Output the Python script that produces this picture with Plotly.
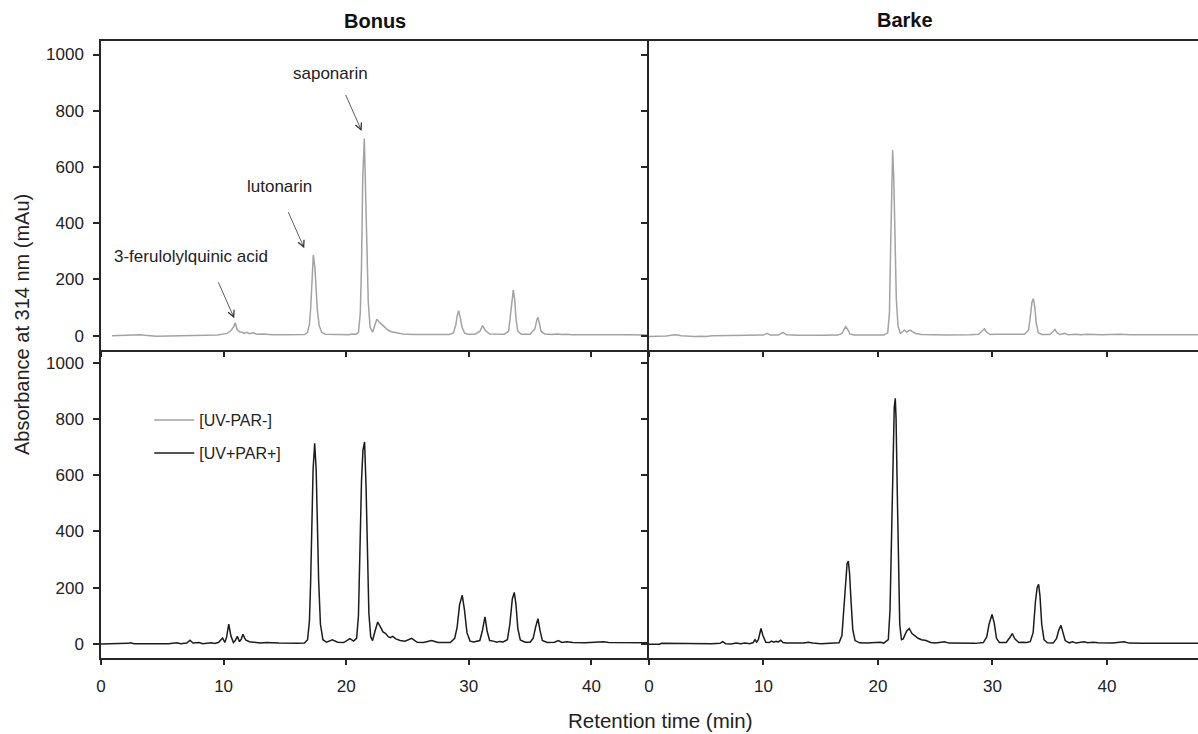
import plotly.graph_objects as go

# ---------------- data (retention time [min], absorbance at 314 nm [mAu]) ----------------
bonus_minus = [
    (0.9, 0), (2.0, 1), (2.8, 4), (3.2, 3), (3.6, 1), (4.5, -2), (5.5, -1), (6.5, 0), (8.0, 1),
    (9.5, 2), (10.3, 8), (10.6, 18), (10.8, 30), (10.95, 46), (11.1, 22), (11.3, 14), (11.5, 12),
    (11.7, 8), (11.9, 12), (12.1, 7), (12.4, 10), (12.7, 5), (13.2, 6), (14.0, 3), (15.0, 3),
    (16.0, 3), (16.6, 4), (16.85, 12), (17.0, 40), (17.1, 95), (17.2, 190), (17.32, 287),
    (17.45, 240), (17.55, 160), (17.65, 90), (17.8, 35), (18.0, 12), (18.3, 5), (19.0, 4),
    (19.3, 6), (19.6, 3), (20.2, 3), (20.5, 6), (20.8, 5), (21.0, 12), (21.15, 80), (21.25, 250),
    (21.35, 560), (21.48, 701), (21.6, 520), (21.7, 300), (21.8, 120), (21.95, 30), (22.15, 12),
    (22.35, 35), (22.5, 58), (22.7, 48), (22.9, 40), (23.1, 30), (23.4, 20), (23.7, 14), (24.1, 10),
    (24.6, 6), (25.5, 4), (26.5, 4), (27.5, 3), (28.4, 4), (28.75, 10), (28.95, 40), (29.05, 70),
    (29.17, 89), (29.3, 65), (29.45, 30), (29.65, 10), (29.9, 5), (30.5, 5), (30.9, 15), (31.13, 36),
    (31.35, 18), (31.7, 6), (32.3, 5), (32.9, 5), (33.25, 15), (33.4, 70), (33.52, 130), (33.63, 162),
    (33.74, 130), (33.85, 60), (34.0, 15), (34.3, 5), (35.0, 5), (35.4, 25), (35.55, 55), (35.64, 65),
    (35.75, 45), (35.9, 15), (36.2, 6), (36.8, 4), (37.2, 6), (37.6, 4), (38.0, 5), (38.4, 3),
    (39.5, 3), (40.5, 3), (41.0, 5), (41.5, 3), (43.0, 3), (44.7, 2),
]

barke_minus = [
    (0, -3), (0.8, -3), (1.5, -1), (2.1, 2), (2.4, 3), (2.8, 0), (3.3, -2), (4.0, -3), (4.6, -2),
    (5.0, -3), (5.5, 0), (7, 0), (9.5, 1), (10.0, 2), (10.3, 8), (10.6, 2), (11.3, 2), (11.7, 12),
    (12.0, 3), (13, 1), (15, 1), (16.5, 2), (16.85, 8), (17.0, 20), (17.18, 32), (17.35, 22),
    (17.55, 6), (17.9, 2), (19, 1), (20.5, 2), (20.85, 10), (21.0, 80), (21.1, 300), (21.2, 560),
    (21.28, 660), (21.38, 560), (21.48, 330), (21.6, 130), (21.75, 35), (21.95, 8), (22.1, 12),
    (22.3, 20), (22.5, 13), (22.8, 20), (23.0, 14), (23.3, 8), (23.8, 4), (24.5, 3), (26, 2),
    (28.0, 3), (28.8, 5), (29.05, 15), (29.29, 24), (29.5, 12), (29.8, 4), (30.3, 5), (31, 6),
    (32.0, 5), (32.8, 5), (33.15, 20), (33.3, 65), (33.45, 120), (33.57, 132), (33.7, 100),
    (33.82, 45), (34.0, 10), (34.3, 4), (35.0, 4), (35.3, 15), (35.46, 22), (35.65, 10), (35.9, 4),
    (36.3, 8), (36.6, 3), (37.3, 5), (37.7, 3), (38.3, 5), (39.5, 3), (41.2, 5), (42.0, 3), (44, 3),
    (47.95, 3),
]

bonus_plus = [
    (0, 0), (1.5, 0), (2.2, 2), (2.4, 4), (2.7, 1), (4, 1), (5.5, 1), (6.2, 4), (6.5, 1), (7.0, 3),
    (7.26, 13), (7.5, 3), (8.0, 5), (8.3, 1), (9.0, 4), (9.3, 2), (9.6, 6), (9.92, 21), (10.1, 5),
    (10.25, 25), (10.42, 70), (10.6, 28), (10.8, 5), (10.95, 12), (11.12, 27), (11.3, 8), (11.45, 18),
    (11.58, 34), (11.8, 14), (12.1, 8), (12.6, 4), (13.0, 3), (13.5, 5), (14.0, 5), (14.5, 3),
    (16.0, 2), (16.6, 3), (16.85, 15), (17.0, 80), (17.1, 220), (17.2, 420), (17.3, 620),
    (17.43, 713), (17.55, 620), (17.65, 430), (17.75, 230), (17.9, 70), (18.1, 15), (18.4, 6),
    (18.87, 15), (19.3, 6), (19.8, 5), (20.3, 19), (20.6, 10), (20.85, 20), (21.0, 100),
    (21.12, 330), (21.25, 580), (21.37, 690), (21.5, 718), (21.62, 560), (21.72, 330), (21.85, 110),
    (22.0, 25), (22.15, 12), (22.35, 45), (22.57, 78), (22.8, 60), (23.0, 43), (23.2, 38),
    (23.45, 25), (23.6, 22), (23.8, 27), (24.05, 18), (24.4, 12), (24.8, 10), (25.34, 20),
    (25.8, 6), (26.3, 5), (26.97, 12), (27.5, 5), (28.5, 5), (28.85, 20), (29.05, 60), (29.25, 140),
    (29.47, 173), (29.65, 120), (29.85, 40), (30.1, 10), (30.4, 7), (30.9, 12), (31.1, 45),
    (31.32, 96), (31.5, 45), (31.7, 12), (32.0, 10), (32.3, 6), (32.5, 9), (32.8, 7), (33.15, 15),
    (33.35, 70), (33.55, 160), (33.71, 183), (33.85, 140), (34.0, 55), (34.2, 14), (34.6, 6),
    (35.0, 6), (35.25, 20), (35.45, 60), (35.64, 90), (35.8, 50), (36.0, 12), (36.4, 5), (37.0, 6),
    (37.3, 12), (37.6, 5), (38.0, 8), (38.5, 5), (39.5, 4), (41.0, 8), (41.4, 5), (43, 4), (44.7, 4),
]

barke_plus = [
    (0, -1), (0.9, -1), (1.1, 2), (3, 1), (5.5, 1), (6.2, 2), (6.43, 8), (6.7, 1), (7.2, 0),
    (7.6, 3), (8.0, 1), (8.4, 3), (8.8, 1), (9.1, 5), (9.26, 15), (9.4, 6), (9.55, 15), (9.78, 55),
    (9.95, 30), (10.2, 6), (10.5, 5), (10.7, 10), (10.9, 6), (11.1, 9), (11.3, 7), (11.5, 13),
    (11.7, 5), (12.0, 3), (13.5, 3), (13.9, 6), (14.3, 3), (15, 1), (16, 2), (16.6, 4), (16.85, 30),
    (17.0, 110), (17.15, 220), (17.3, 285), (17.41, 295), (17.52, 250), (17.65, 150), (17.8, 50),
    (18.0, 12), (18.4, 4), (19.0, 3), (20.0, 4), (20.2, 6), (20.5, 3), (20.9, 15), (21.05, 120),
    (21.18, 420), (21.3, 700), (21.42, 840), (21.51, 873), (21.58, 800), (21.68, 550), (21.78, 280),
    (21.9, 70), (22.05, 15), (22.2, 18), (22.5, 45), (22.73, 55), (22.95, 38), (23.2, 30),
    (23.5, 20), (23.8, 15), (24.2, 12), (24.6, 5), (25.0, 3), (25.5, 6), (25.8, 8), (26.2, 3),
    (27.0, 2), (27.7, 3), (28.5, 2), (29.2, 5), (29.5, 25), (29.7, 70), (29.96, 105), (30.15, 75),
    (30.35, 20), (30.6, 5), (31.2, 5), (31.5, 22), (31.73, 37), (31.95, 18), (32.3, 5), (32.6, 6),
    (33.0, 5), (33.3, 8), (33.55, 40), (33.75, 150), (33.9, 200), (34.03, 212), (34.15, 170),
    (34.3, 70), (34.5, 15), (34.8, 4), (35.3, 3), (35.6, 20), (35.8, 50), (35.98, 66), (36.15, 45),
    (36.35, 12), (36.7, 4), (37.0, 8), (37.3, 3), (38.0, 8), (38.3, 4), (38.8, 6), (39.2, 4),
    (40.5, 3), (41.5, 8), (41.9, 3), (43, 2), (47.95, 2),
]

cultivars = ["Bonus", "Barke"]
treatments = ["[UV-PAR-]", "[UV+PAR+]"]
x_ticks = [0, 10, 20, 30, 40]
y_ticks = [0, 200, 400, 600, 800, 1000]

# annotated compounds in Bonus [UV-PAR-]: (label, label position t, v, arrow head t, v)
compound_labels = ["saponarin", "lutonarin", "3-ferulolylquinic acid"]
label_pos = [(18.76, 933), (14.58, 532), (7.34, 283)]
arrow_heads = [(21.26, 728), (16.58, 311), (10.87, 62)]

# ---------------- figure ----------------
FONT = "Arial, 'Liberation Sans', sans-serif"
GRAY = "#a3a3a3"
BLACK = "#1c1c1c"
AXC = "#262626"

fig = go.Figure()

def add(series, xa, ya, color, name, show):
    t = [p[0] for p in series]
    v = [p[1] for p in series]
    fig.add_trace(go.Scatter(x=t, y=v, mode="lines", xaxis=xa, yaxis=ya,
                             line=dict(color=color, width=1.5), name=name,
                             legendgroup=name, showlegend=show, hoverinfo="skip"))

add(bonus_minus, "x", "y", GRAY, treatments[0], True)
add(barke_minus, "x2", "y2", GRAY, treatments[0], False)
add(bonus_plus, "x3", "y3", BLACK, treatments[1], True)
add(barke_plus, "x4", "y4", BLACK, treatments[1], False)

XL = [0, 0.49954]
XR = [0.49954, 1]
YT = [0.4992, 1]
YB = [0, 0.4992]

common = dict(showgrid=False, zeroline=False, showline=True, linecolor=AXC, linewidth=1.5,
              ticks="outside", tickcolor=AXC, tickwidth=1.5,
              tickfont=dict(family=FONT, size=17, color="#222222"))

def xax(dom, rng, anchor, labels, mirror):
    d = dict(common)
    d.update(domain=dom, range=rng, anchor=anchor, mirror=mirror, ticklen=5,
             tickvals=x_ticks, showticklabels=labels, ticklabelstandoff=7)
    return d

def yax(dom, rng, anchor, labels):
    d = dict(common)
    d.update(domain=dom, range=rng, anchor=anchor, mirror=False, ticklen=6,
             tickvals=y_ticks, showticklabels=labels, ticklabelstandoff=6)
    return d

fig.update_layout(
    xaxis=xax(XL, [0, 44.7], "y", False, True),
    xaxis2=xax(XR, [0, 47.95], "y2", False, True),
    xaxis3=xax(XL, [0, 44.7], "y3", True, False),
    xaxis4=xax(XR, [0, 47.95], "y4", True, False),
    yaxis=yax(YT, [-51, 1048], "x", True),
    yaxis2=yax(YT, [-51, 1048], "x2", False),
    yaxis3=yax(YB, [-50, 1045], "x3", True),
    yaxis4=yax(YB, [-50, 1045], "x4", False),
)

def mid(**kw):
    d = dict(showarrow=False, xanchor="center", yanchor="middle")
    d.update(kw)
    return d

annotations = []
# panel titles
annotations.append(mid(text="<b>%s</b>" % cultivars[0], xref="paper", yref="paper",
                       x=(375 - 101) / 1097, y=(658 - 21) / 617,
                       font=dict(family=FONT, size=20, color="#111111")))
annotations.append(mid(text="<b>%s</b>" % cultivars[1], xref="paper", yref="paper",
                       x=(905 - 101) / 1097, y=(658 - 20) / 617,
                       font=dict(family=FONT, size=20, color="#111111")))
# axis titles
annotations.append(mid(text="Retention time (min)", xref="paper", yref="paper",
                       x=(660 - 101) / 1097, y=(658 - 720) / 617,
                       font=dict(family=FONT, size=20.5, color="#222222")))
annotations.append(mid(text="Absorbance at 314 nm (mAu)", xref="paper", yref="paper",
                       x=(22 - 101) / 1097, y=(658 - 325) / 617, textangle=-90,
                       font=dict(family=FONT, size=20, color="#222222")))
# compound labels + arrows
for lab, (lx, ly), (hx, hy) in zip(compound_labels, label_pos, arrow_heads):
    annotations.append(mid(text=lab, xref="x", yref="y", x=lx, y=ly,
                           font=dict(family=FONT, size=17, color="#222222")))
    annotations.append(dict(text="", xref="x", yref="y", x=hx, y=hy, showarrow=True,
                            ax=-16.6, ay=-37.5, arrowhead=5, arrowsize=1.6,
                            arrowwidth=0.8, arrowcolor="#333333"))

fig.update_layout(
    annotations=annotations,
    width=1198, height=734,
    margin=dict(l=101, r=0, t=41, b=76),
    paper_bgcolor="white", plot_bgcolor="white",
    showlegend=True,
    legend=dict(x=0.044, y=0.413, xanchor="left", yanchor="top",
                font=dict(family=FONT, size=16, color="#222222"),
                itemwidth=40,
                bgcolor="rgba(0,0,0,0)", traceorder="grouped", tracegroupgap=9),
)

fig.write_html("out.html")
